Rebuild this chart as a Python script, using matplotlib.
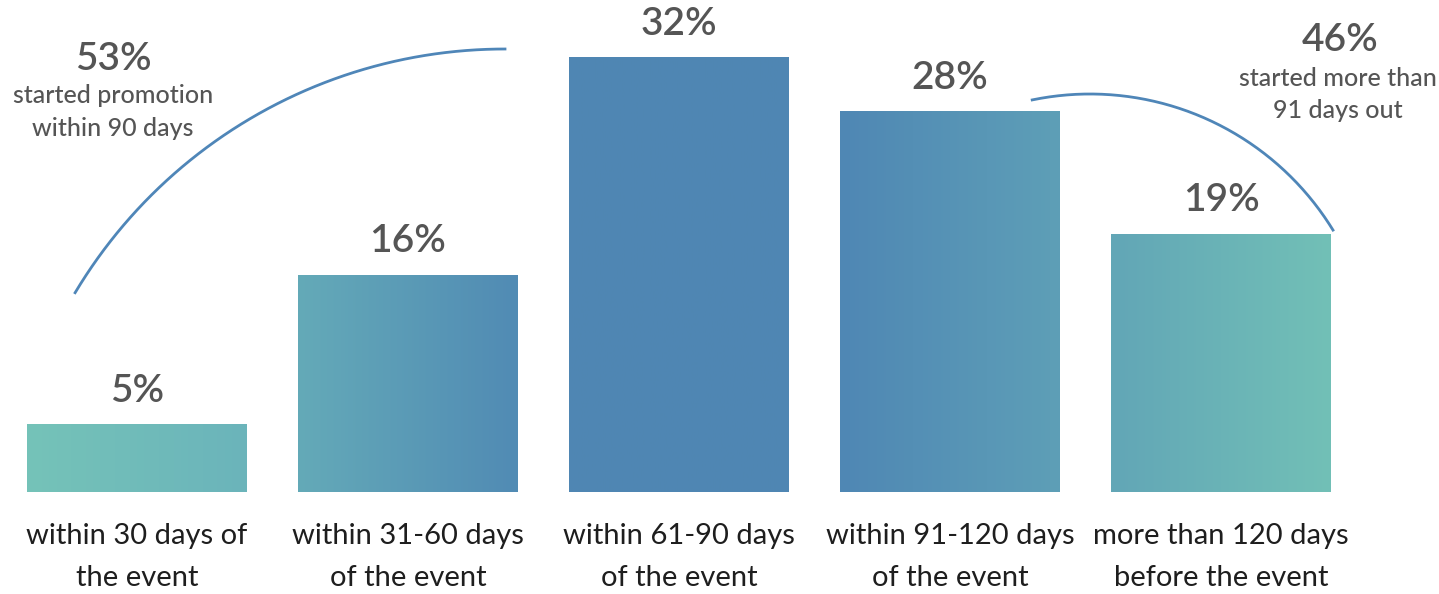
import numpy as np
import matplotlib.pyplot as plt
from matplotlib.colors import LinearSegmentedColormap

plt.rcParams['font.family'] = ['Lato', 'DejaVu Sans']

# promotion start timing
categories = ['within 30 days of\nthe event', 'within 31-60 days\nof the event',
              'within 61-90 days\nof the event', 'within 91-120 days\nof the event',
              'more than 120 days\nbefore the event']
shares = [5, 16, 32, 28, 19]
value_labels = ['5%', '16%', '32%', '28%', '19%']
callout_values = ['53%', '46%']
callout_texts = ['started promotion\nwithin 90 days', 'started more than\n91 days out']

# left / right edge colours of each bar's gradient
left_cols = ['#75c3b8', '#64aab8', '#5087b3', '#4f87b4', '#62a6b6']
right_cols = ['#6bb4bb', '#518bb4', '#4f86b3', '#5e9fb7', '#72c0b7']

W, H = 1439, 594
fig = plt.figure(figsize=(W / 100, H / 100), dpi=100)
fig.patch.set_facecolor('white')

# main axes: bottom of bars at y=492px, 32% reaches y=57px
y_bottom = 492
px_per_pct = (492 - 57) / 32
ax = fig.add_axes([0, (H - y_bottom) / H, 1, 35 * px_per_pct / H])
x0, step = 137, 271
ax.set_xlim(-x0 / step, (W - x0) / step)
ax.set_ylim(0, 35)

x = np.arange(len(shares))
width = 220 / step
bars = ax.bar(x, shares, width=width, color='none', edgecolor='none')
for b, lc, rc in zip(bars, left_cols, right_cols):
    cmap = LinearSegmentedColormap.from_list('g', [lc, rc])
    grad = np.linspace(0, 1, 256).reshape(1, -1)
    bx, by = b.get_x(), b.get_y()
    im = ax.imshow(grad, cmap=cmap, aspect='auto',
                   extent=[bx, bx + b.get_width(), by, by + b.get_height()],
                   zorder=2)
    im.set_clip_path(b)
ax.set_xlim(-x0 / step, (W - x0) / step)
ax.set_ylim(0, 35)

for xi, v, lab in zip(x, shares, value_labels):
    ax.annotate(lab, (xi, v), xytext=(0, 16), textcoords='offset points',
                ha='center', va='baseline', fontsize=28, fontweight='semibold',
                color='#555555', annotation_clip=False)

ax.set_xticks(x)
ax.set_xticklabels(categories, fontsize=21, color='#1e1e1e', linespacing=1.8)
ax.tick_params(axis='x', length=0, pad=22)
ax.set_yticks([])
for s in ax.spines.values():
    s.set_visible(False)
ax.patch.set_visible(False)

# overlay in pixel units for the bracket arcs and callouts
ov = fig.add_axes([0, 0, 1, 1], zorder=-1)
ov.set_xlim(0, W)
ov.set_ylim(H, 0)
ov.axis('off')

def arc(cx, cy, r, a0, a1):
    t = np.radians(np.linspace(a0, a1, 200))
    ov.plot(cx + r * np.cos(t), cy - r * np.sin(t), color='#4f86b8', lw=2)

arc(505, 550, 501, 149.1, 90)
arc(1090, 379, 285, 101.7, 31.5)

ov.text(113, 70, callout_values[0], ha='center', va='baseline', fontsize=28,
        fontweight='semibold', color='#555555')
ov.text(113, 84, callout_texts[0], ha='center', va='top', fontsize=18,
        fontweight='medium', color='#555555', linespacing=1.5)
ov.text(1340, 51, callout_values[1], ha='center', va='baseline', fontsize=28,
        fontweight='semibold', color='#555555')
ov.text(1338, 67, callout_texts[1], ha='center', va='top', fontsize=18,
        fontweight='medium', color='#555555', linespacing=1.5)

fig.savefig('out.png', dpi=100)
